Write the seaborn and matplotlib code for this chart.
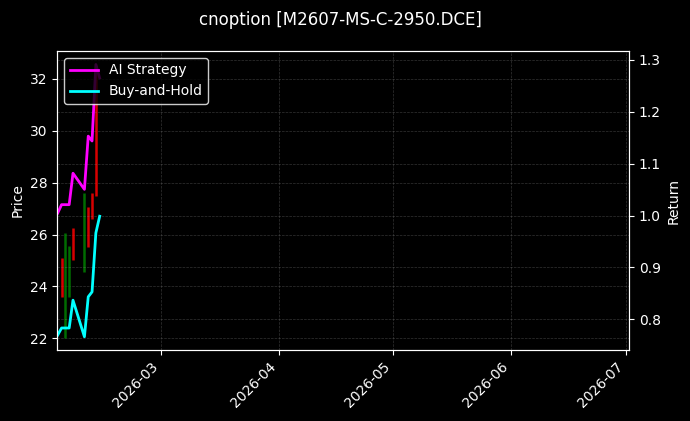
import matplotlib
matplotlib.use("Agg")
import matplotlib.pyplot as plt
import matplotlib.dates as mdates
import seaborn as sns
import pandas as pd
import numpy as np

# ---- data ----
line_dates = ["2026-02-02", "2026-02-03", "2026-02-04", "2026-02-05", "2026-02-06",
              "2026-02-09", "2026-02-10", "2026-02-11", "2026-02-12", "2026-02-13"]
ai_strategy = [1.005, 1.021, 1.021, 1.021, 1.0815, 1.0505, 1.153, 1.1436, 1.291, 1.265]
buy_and_hold = [0.770, 0.7834, 0.7834, 0.7834, 0.837, 0.7665, 0.8435, 0.853, 0.9665, 0.9987]

candle_dates = ["2026-02-03", "2026-02-04", "2026-02-05", "2026-02-06",
                "2026-02-09", "2026-02-10", "2026-02-11", "2026-02-12"]
candle_low = [23.6, 22.0, 23.6, 25.02, 24.57, 25.53, 26.62, 27.5]
candle_high = [25.08, 26.05, 25.57, 26.24, 27.59, 27.07, 27.59, 32.55]
candle_up = [False, True, True, False, True, False, False, False]

title = "cnoption [M2607-MS-C-2950.DCE]"
x_start = "2026-02-01 21:00"
x_end = "2026-07-01 21:00"

# ---- figure ----
plt.style.use("dark_background")
fig = plt.figure(figsize=(6.9, 4.21), dpi=100)
ax1 = fig.add_subplot(111)
fig.subplots_adjust(left=0.083, right=0.9116, top=0.8789, bottom=0.1686)
ax2 = ax1.twinx()

lines_df = pd.DataFrame({
    "date": pd.to_datetime(line_dates),
    "ai": ai_strategy,
    "bh": buy_and_hold,
})
candles_df = pd.DataFrame({
    "date": pd.to_datetime(candle_dates),
    "low": candle_low,
    "high": candle_high,
    "up": candle_up,
})

ccolors = ["green" if u else "red" for u in candles_df["up"]]
ax1.vlines(candles_df["date"], candles_df["low"], candles_df["high"],
           colors=ccolors, linewidth=1.8, alpha=0.85)

sns.lineplot(data=lines_df, x="date", y="ai", ax=ax2, color="#ff00ff",
             linewidth=2, label="AI Strategy")
sns.lineplot(data=lines_df, x="date", y="bh", ax=ax2, color="#00ffff",
             linewidth=2, label="Buy-and-Hold")

ax1.set_xlim(pd.Timestamp(x_start), pd.Timestamp(x_end))
ax1.set_ylim(21.55, 33.08)
ax2.set_ylim(0.741, 1.317)

ax1.xaxis.set_major_locator(mdates.MonthLocator())
ax1.xaxis.set_major_formatter(mdates.DateFormatter("%Y-%m"))
plt.setp(ax1.get_xticklabels(), rotation=45, ha="right")

ax1.set_ylabel("Price")
ax2.set_ylabel("Return")
ax1.set_xlabel("")
ax2.set_xlabel("")

ax1.grid(True, linestyle="--", linewidth=0.5, color="gray", alpha=0.4)
ax2.grid(True, linestyle="--", linewidth=0.5, color="gray", alpha=0.4)

leg = ax2.legend(loc="upper left", facecolor="black", edgecolor="white",
                 framealpha=0.8)
for t in leg.get_texts():
    t.set_color("white")

for ax in (ax1, ax2):
    for s in ax.spines.values():
        s.set_color("white")

fig.suptitle(title, fontsize=12, color="white", x=0.494, y=0.975)

fig.savefig("out.png", dpi=100, facecolor="black")
